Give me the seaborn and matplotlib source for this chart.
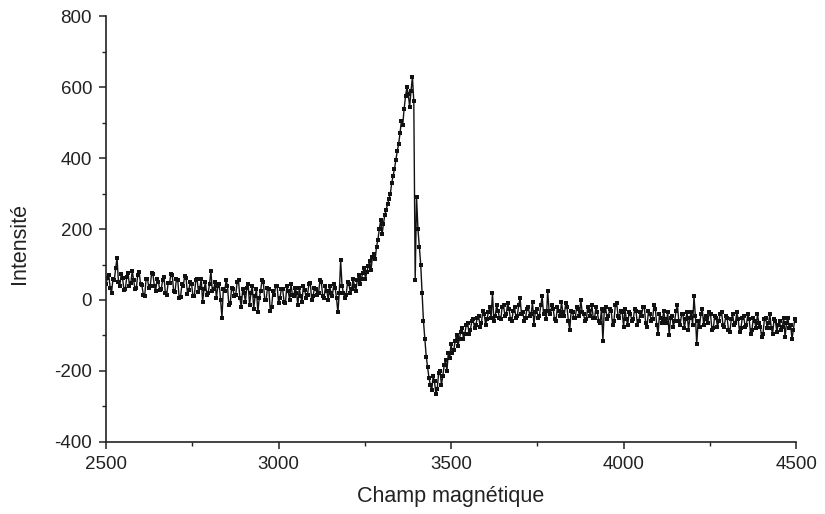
import numpy as np
import pandas as pd
import matplotlib
matplotlib.use("Agg")
import matplotlib.pyplot as plt
from matplotlib.ticker import MultipleLocator
import seaborn as sns

# Magnetic field sweep (G), step 4
field = np.arange(2500, 4501, 4)

# Intensity values
intensity = [
    # 2500 - 3136
    45, 62, 70, 35, 20, 58, 55, 90, 118, 50, 40, 72, 62, 28, 30, 65, 75, 40, 48, 82,
    55, 30, 35, 70, 80, 45, 42, 15, 10, 58, 60, 35, 38, 75, 72, 40, 25, 60, 50, 28,
    30, 55, 65, 20, 15, 48, 48, 72, 70, 25, 22, 60, 55, 5, 8, 45, 40, 68, 62, 18,
    28, 50, 45, 10, 12, 55, 58, 22, 35, 60, -5, 30, 50, 15, 20, 45, 82, 25, 30, 50,
    5, 40, 45, 0, -50, 30, 25, 55, 40, -15, -10, 35, 30, 10, 15, 50, 55, 5, -20, 30,
    20, -5, 35, 45, -15, 20, 40, -25, 10, 30, -35, 5, 25, 55, 50, 0, 0, 35, 30, -30,
    -20, 25, 15, 40, 40, -10, 5, 30, 30, -5, -10, 40, 25, 0, 45, 15, 10, 35, 20, -15,
    35, 10, -5, 40, 28, 5, 15, 45, 48, 0, 10, 35, 30, 15, 20, 55, 50, 10, 5, 40,
    # 3140 - 3176
    25, 0, 40, 20, 10, 45, 35, 5, -35, 20,
    # 3180 - 3616
    112, 40, 20, 5, 15, 50, 45, 20, 30, 60,
    40, 25, 55, 70, 45, 60, 75, 90, 60, 80,
    95, 110, 85, 120, 130, 115, 150, 170, 200, 225,
    185, 215, 240, 255, 270, 285, 300, 330, 350, 370,
    395, 420, 440, 470, 505, 495, 540, 575, 600, 580,
    545, 590, 630, 560, 55, 290, 200, 150, 100, 20,
    -60, -110, -160, -190, -220, -240, -255, -215, -230, -265,
    -250, -205, -200, -240, -215, -185, -170, -200, -150, -165,
    -125, -150, -140, -115, -100, -130, -110, -90, -80, -110,
    -95, -70, -65, -95, -85, -60, -55, -80, -70, -50,
    -45, -75, -65, -30, -40, -70, -55, -35, -20, -50,
    # 3620 - 4500
    20, -60, -45, -15, -30, -50, -55, -20, -15, -45, -40, -10, -25, -55, -60, -30, -20, -50, -45, -15,
    5, -40, -35, -60, -50, -25, -20, -45, -40, -5, -70, -35, -25, -50, -45, -15, 10, -40, -30, -55,
    25, -30, -40, -15, -25, -55, -60, -20, -30, -45, -5, -35, -45, -10, -20, -60, -85, -30, -35, -50,
    -50, -20, -25, -45, 0, -35, -40, -60, -55, -20, -30, -45, -15, -50, -50, -20, -35, -60, -65, -25,
    -115, -30, -20, -55, -45, -25, -30, -70, -60, -15, -10, -45, -50, -30, -35, -75, -25, -55, -70, -35,
    -40, -60, -55, -25, -30, -70, -60, -35, -45, -20, -20, -65, -75, -30, -40, -60, -55, -15, -25, -70,
    -95, -40, -50, -65, -30, -55, -65, -35, -100, -50, -45, -75, -60, -30, -15, -60, -70, -40, -40, -80,
    -55, -35, -85, -50, -35, -70, 10, -45, -125, -60, -75, -40, -25, -70, -55, -45, -65, -35, -40, -85,
    -80, -45, -50, -75, -60, -40, -35, -70, -75, -45, -50, -85, -90, -55, -40, -70, -65, -35, -55, -90,
    -80, -50, -45, -75, -70, -40, -55, -95, -85, -50, -60, -80, -40, -65, -75, -105, -95, -55, -50, -80,
    -65, -40, -80, -95, -55, -60, -90, -70, -60, -85, -75, -50, -105, -65, -50, -80, -70, -110, -85, -55,
    -60,
]

x_ticks = [2500, 3000, 3500, 4000, 4500]
y_ticks = [-400, -200, 0, 200, 400, 600, 800]

n = min(len(field), len(intensity))
df = pd.DataFrame({"field": field[:n], "intensity": intensity[:n]})

sns.set_style("ticks")
plt.rcParams['font.family'] = ['Liberation Sans', 'DejaVu Sans']
plt.rcParams['axes.unicode_minus'] = False

fig = plt.figure(figsize=(8.25, 5.14), dpi=100)
ax = fig.add_axes([0.1285, 0.1407, 0.965 - 0.1285, 0.968 - 0.1407])

sns.lineplot(data=df, x="field", y="intensity", ax=ax, color="#111111",
             linewidth=1.0, marker="s", markersize=2.8, markeredgewidth=0,
             markerfacecolor="#111111")

ax.set_xlim(2500, 4500)
ax.set_ylim(-400, 800)
ax.set_xticks(x_ticks)
ax.set_yticks(y_ticks)
ax.xaxis.set_minor_locator(MultipleLocator(250))
ax.yaxis.set_minor_locator(MultipleLocator(100))
ax.tick_params(which="major", direction="out", length=5, width=1.1, labelsize=13.5,
               colors="#222222", pad=5)
ax.tick_params(which="minor", direction="out", length=3, width=1.0, colors="#222222")
for s in ["top", "right"]:
    ax.spines[s].set_visible(False)
for s in ["left", "bottom"]:
    ax.spines[s].set_linewidth(1.2)
    ax.spines[s].set_color("#222222")

ax.set_xlabel("Champ magnétique", fontsize=15.5, color="#222222")
ax.set_ylabel("Intensité", fontsize=15.5, color="#222222")
ax.xaxis.set_label_coords(0.5, -0.105)
ax.yaxis.set_label_coords(-0.11, 0.467)

fig.savefig("out.png", dpi=100)
